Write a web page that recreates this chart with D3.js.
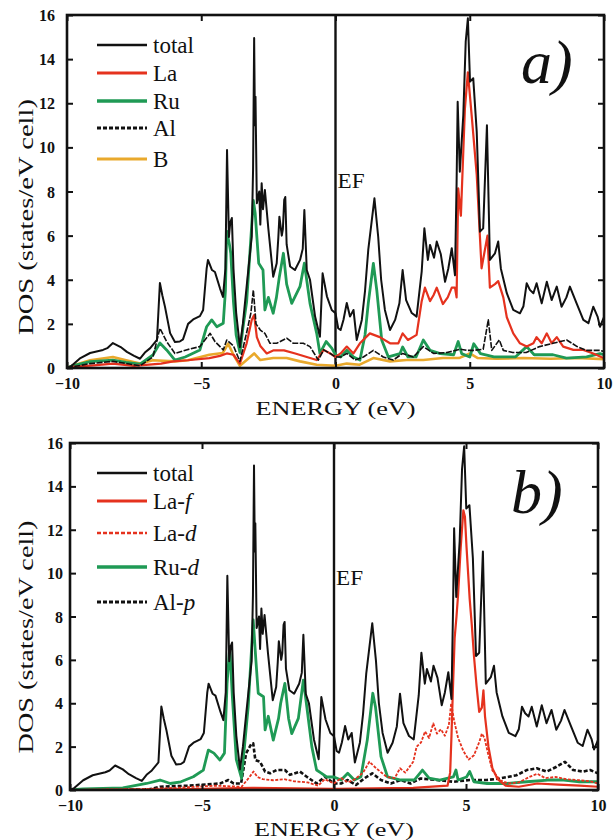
<!DOCTYPE html>
<html>
<head>
<meta charset="utf-8">
<script src="https://cdn.jsdelivr.net/npm/d3@7"></script>
<style>
  html, body { margin: 0; padding: 0; background: #fff; }
  svg { display: block; }
  text { font-family: "Liberation Serif", "Times New Roman", serif; fill: #111; }
</style>
</head>
<body>
<svg id="chart" width="613" height="840"></svg>
<script>
// Energy axis (eV) and DOS axis (states/eV cell) ticks
const energyTicks = [-10, -5, 0, 5, 10];
const dosTicks = [0, 2, 4, 6, 8, 10, 12, 14, 16];

// Total DOS, [energy, DOS] — same in both panels
const totalDOS = [[-10,0],[-9.83,0.1],[-9.5,0.45],[-9.14,0.68],[-8.66,0.82],[-8.5,0.9],[-8.29,1.13],[-8.0,0.95],[-7.77,0.73],[-7.5,0.55],[-7.28,0.42],[-7.1,0.7],[-6.9,0.9],[-6.65,1.27],[-6.54,3.85],[-6.45,3.3],[-6.35,2.77],[-6.16,1.58],[-5.98,1.18],[-5.8,1.2],[-5.68,1.3],[-5.49,2.0],[-5.3,2.2],[-5.05,2.35],[-4.93,2.63],[-4.8,4.5],[-4.75,4.9],[-4.6,4.44],[-4.49,4.35],[-4.3,3.6],[-4.19,3.22],[-4.1,4.5],[-4.04,9.88],[-3.97,5.94],[-3.92,6.6],[-3.86,6.8],[-3.8,4.5],[-3.7,2.5],[-3.56,0.95],[-3.45,2.0],[-3.31,3.69],[-3.2,5.0],[-3.12,5.95],[-3.07,9.0],[-3.03,14.96],[-3.0,11.0],[-2.98,12.3],[-2.93,7.47],[-2.84,8.0],[-2.8,6.5],[-2.75,8.37],[-2.7,7.2],[-2.63,8.07],[-2.5,6.3],[-2.32,4.14],[-2.19,4.75],[-2.13,5.9],[-2.09,6.86],[-2.0,6.0],[-1.96,6.3],[-1.91,7.62],[-1.87,7.75],[-1.82,5.6],[-1.69,4.6],[-1.51,4.44],[-1.32,4.9],[-1.22,5.4],[-1.16,7.16],[-1.07,4.44],[-0.95,4.0],[-0.76,2.33],[-0.58,1.42],[-0.48,4.29],[-0.32,3.25],[-0.14,2.63],[0.0,2.48],[0.1,1.8],[0.19,1.72],[0.3,2.2],[0.42,2.95],[0.54,2.33],[0.67,2.63],[0.79,1.27],[0.98,2.18],[1.1,3.5],[1.22,5.35],[1.45,7.69],[1.59,5.95],[1.7,4.0],[1.84,2.63],[2.03,1.72],[2.22,2.18],[2.38,2.93],[2.5,4.44],[2.63,3.08],[2.84,2.49],[3.02,2.33],[3.21,4.37],[3.31,6.33],[3.44,4.9],[3.52,5.58],[3.67,5.0],[3.77,5.73],[3.92,5.17],[4.08,3.91],[4.2,4.5],[4.33,5.43],[4.45,4.2],[4.51,8.4],[4.55,12.07],[4.63,8.9],[4.76,11.47],[4.85,14.8],[4.93,15.85],[5.01,12.98],[5.13,13.13],[5.26,10.7],[5.38,6.18],[5.5,6.33],[5.64,11.0],[5.75,4.9],[5.94,5.2],[6.06,5.73],[6.16,4.5],[6.38,3.39],[6.62,2.63],[6.87,2.48],[7.0,2.8],[7.12,3.84],[7.24,3.54],[7.37,3.39],[7.49,3.84],[7.68,2.93],[7.87,3.91],[8.05,3.08],[8.24,3.69],[8.42,2.78],[8.6,3.2],[8.73,3.69],[8.98,2.93],[9.23,2.18],[9.42,2.03],[9.6,2.78],[9.76,2.33],[9.85,1.87],[10,2.3]];

// Panel a) partial DOS
const laDOS = [[-10,0],[-9.8,0.05],[-9,0.12],[-8.3,0.2],[-7.5,0.1],[-6.5,0.2],[-6.04,0.3],[-5.5,0.35],[-4.7,0.45],[-4.3,0.55],[-4.05,0.66],[-3.8,0.6],[-3.56,0.2],[-3.31,1.12],[-3.12,2.18],[-3.03,2.4],[-2.93,1.4],[-2.8,1.0],[-2.56,0.66],[-2.3,0.8],[-1.92,0.8],[-1.5,0.66],[-1.07,0.5],[-0.7,0.36],[-0.44,0.82],[-0.2,0.66],[0,0.5],[0.19,0.66],[0.42,0.97],[0.67,0.66],[0.91,1.12],[1.28,1.57],[1.65,1.4],[2.03,1.12],[2.34,1.12],[2.5,1.57],[2.7,1.27],[3.02,1.5],[3.21,3.03],[3.33,3.64],[3.52,3.03],[3.65,3.3],[3.77,3.64],[4.0,2.9],[4.18,3.2],[4.33,3.64],[4.45,3.64],[4.51,3.2],[4.57,8.14],[4.67,6.9],[4.82,11.77],[4.93,13.4],[5.07,11.47],[5.26,8.75],[5.44,4.52],[5.66,6.0],[5.75,3.64],[5.94,3.8],[6.06,3.94],[6.25,3.2],[6.38,2.3],[6.62,1.57],[6.87,1.12],[7.12,0.97],[7.37,1.12],[7.49,1.4],[7.68,1.12],[7.87,1.57],[8.05,1.12],[8.24,1.4],[8.48,0.97],[8.86,0.82],[9.23,0.82],[9.6,0.66],[9.9,0.5],[10,0.45]];

const ruDOS = [[-10,0],[-9.8,0.1],[-9.14,0.29],[-8.29,0.36],[-7.8,0.25],[-7.28,0.18],[-6.8,0.59],[-6.54,1.13],[-6.29,0.82],[-5.98,0.36],[-5.6,0.5],[-5.05,0.82],[-4.8,1.87],[-4.61,2.18],[-4.42,1.87],[-4.18,2.03],[-4.1,3.5],[-4.05,6.2],[-3.95,5.6],[-3.9,5.2],[-3.8,3.0],[-3.7,1.5],[-3.56,0.7],[-3.45,1.8],[-3.31,3.0],[-3.2,5.0],[-3.06,7.6],[-2.99,7.0],[-2.86,4.75],[-2.7,4.44],[-2.63,2.63],[-2.5,3.2],[-2.32,2.48],[-2.2,3.2],[-2.09,4.14],[-1.94,5.2],[-1.82,3.8],[-1.63,2.93],[-1.32,3.7],[-1.16,4.75],[-0.95,2.93],[-0.7,1.57],[-0.58,0.66],[-0.35,1.2],[-0.14,0.9],[0,0.6],[0.19,0.5],[0.42,0.8],[0.67,0.5],[0.91,0.36],[1.1,1.5],[1.22,2.93],[1.41,4.74],[1.54,3.5],[1.72,1.27],[1.97,0.5],[2.4,0.65],[2.5,0.95],[2.7,0.5],[3.0,0.5],[3.27,1.27],[3.52,0.8],[3.9,0.65],[4.4,0.6],[4.57,1.2],[4.7,0.65],[5.0,0.5],[5.15,1.1],[5.4,0.65],[5.9,0.5],[6.7,0.5],[7.12,0.97],[7.4,0.6],[8.1,0.6],[8.6,0.45],[9.35,0.5],[9.85,0.65],[10,0.6]];

const alDOS = [[-10,0],[-9.8,0.05],[-9.14,0.2],[-8.29,0.3],[-7.28,0.1],[-6.8,0.5],[-6.54,1.8],[-6.29,1.2],[-5.98,0.66],[-5.56,0.82],[-5.05,0.97],[-4.67,1.57],[-4.49,1.2],[-4.18,0.82],[-4.05,1.27],[-3.8,1.0],[-3.56,0.3],[-3.31,1.6],[-3.15,2.5],[-3.06,3.54],[-2.96,2.0],[-2.8,1.72],[-2.63,1.57],[-2.44,1.12],[-2.19,1.12],[-1.95,1.27],[-1.82,1.35],[-1.57,1.12],[-1.2,1.12],[-0.95,0.97],[-0.64,0.36],[-0.44,0.82],[-0.2,0.66],[0,0.5],[0.19,0.5],[0.42,0.66],[0.73,0.36],[1.04,0.5],[1.41,0.8],[1.78,0.5],[2.15,0.36],[2.5,0.66],[2.9,0.5],[3.27,0.97],[3.65,0.66],[4.15,0.7],[4.65,0.85],[4.9,0.8],[5.15,0.8],[5.5,0.85],[5.69,2.18],[5.82,0.8],[6.1,1.27],[6.25,0.8],[6.6,0.7],[7.1,0.7],[7.6,0.97],[8.1,1.12],[8.61,1.27],[9.0,0.97],[9.35,0.8],[9.85,0.8],[10,0.75]];

const bDOS = [[-10,0],[-9.8,0.1],[-9.14,0.35],[-8.29,0.5],[-7.8,0.35],[-7.28,0.2],[-6.8,0.35],[-6.0,0.3],[-5.5,0.35],[-4.7,0.6],[-4.2,0.68],[-4.0,1.1],[-3.8,0.6],[-3.56,0.1],[-3.31,0.36],[-3.03,0.66],[-2.8,0.36],[-2.32,0.45],[-1.82,0.45],[-1.32,0.3],[-0.7,0.15],[0,0.1],[0.42,0.2],[0.9,0.15],[1.41,0.45],[2.03,0.3],[2.65,0.36],[3.27,0.36],[4.0,0.45],[4.6,0.45],[5.0,0.66],[5.3,0.45],[6.0,0.42],[7.0,0.45],[8.0,0.42],[9.0,0.45],[10,0.4]];

// Panel b) orbital-resolved DOS
const laF = [[-10,0],[-7,0.02],[-5,0.05],[-3.1,0.1],[0,0.05],[3,0.1],[4.3,0.2],[4.4,0.8],[4.45,2.5],[4.5,4.5],[4.57,7.0],[4.64,8.0],[4.7,9.0],[4.8,11.2],[4.9,12.9],[4.96,12.6],[5.02,11.2],[5.08,10.0],[5.14,8.8],[5.22,7.6],[5.3,6.2],[5.4,4.8],[5.5,3.6],[5.6,3.8],[5.66,4.6],[5.72,3.4],[5.85,2.0],[6.0,1.0],[6.2,0.5],[6.5,0.2],[7.0,0.15],[7.7,0.3],[8.5,0.25],[9.3,0.2],[10,0.15]];

const laD = [[-10,0],[-7,0.05],[-6,0.1],[-4.5,0.2],[-3.5,0.15],[-3.2,0.6],[-3.05,0.85],[-2.9,0.6],[-2.7,0.5],[-2.3,0.45],[-1.9,0.5],[-1.5,0.4],[-1.0,0.35],[-0.6,0.2],[-0.35,0.5],[0,0.3],[0.27,0.55],[0.52,0.35],[0.8,0.5],[1.1,0.8],[1.34,1.3],[1.6,1.0],[2.0,0.6],[2.3,0.55],[2.5,1.0],[2.7,0.8],[3.0,1.3],[3.13,2.0],[3.3,2.2],[3.45,2.7],[3.6,2.4],[3.76,3.07],[3.9,2.6],[4.05,2.8],[4.2,2.5],[4.35,3.0],[4.44,4.0],[4.55,3.2],[4.7,2.4],[4.9,1.8],[5.1,1.4],[5.3,1.6],[5.5,2.2],[5.6,2.6],[5.7,2.4],[5.85,1.6],[6.0,0.9],[6.3,0.45],[6.6,0.3],[7.0,0.35],[7.4,0.6],[7.7,0.75],[8.0,0.55],[8.4,0.6],[8.8,0.5],[9.3,0.45],[9.7,0.4],[10,0.3]];

const ruD = [[-10,0],[-9.5,0.05],[-8,0.1],[-7.1,0.3],[-6.59,0.46],[-6.2,0.3],[-5.8,0.38],[-5.33,0.61],[-4.95,0.92],[-4.76,1.84],[-4.55,1.7],[-4.32,1.38],[-4.15,1.7],[-4.05,4.92],[-3.95,6.6],[-3.85,4.3],[-3.7,1.4],[-3.5,0.54],[-3.44,1.38],[-3.25,3.84],[-3.06,7.84],[-2.96,6.0],[-2.87,4.46],[-2.67,4.3],[-2.61,2.77],[-2.49,3.4],[-2.3,2.3],[-2.1,3.3],[-2.02,4.0],[-1.86,4.92],[-1.72,3.3],[-1.6,2.6],[-1.35,3.3],[-1.16,5.07],[-1.03,3.84],[-0.84,2.0],[-0.66,0.92],[-0.47,0.77],[-0.28,0.6],[0,0.6],[0.27,0.46],[0.52,0.77],[0.77,0.46],[1.02,0.61],[1.26,2.3],[1.47,4.46],[1.57,3.84],[1.78,1.54],[2.03,0.6],[2.53,0.46],[3.04,0.46],[3.35,0.92],[3.6,0.55],[4.0,0.46],[4.52,0.6],[4.62,0.92],[4.7,0.46],[5.02,0.6],[5.14,0.85],[5.3,0.38],[5.8,0.3],[6.55,0.3],[7.3,0.38],[8.1,0.46],[8.7,0.46],[9.3,0.38],[10,0.38]];

const alP = [[-10,0],[-7,0.03],[-6.6,0.15],[-5.5,0.2],[-4.32,0.3],[-4.0,0.46],[-3.8,0.3],[-3.52,0.3],[-3.33,1.69],[-3.12,2.15],[-3.06,2.15],[-2.98,1.38],[-2.8,1.3],[-2.61,0.85],[-2.42,0.77],[-2.17,0.92],[-1.86,0.92],[-1.67,0.7],[-1.29,0.85],[-1.03,0.61],[-0.66,0.3],[-0.34,0.61],[0,0.3],[0.27,0.3],[0.52,0.46],[0.83,0.23],[1.14,0.53],[1.45,0.77],[1.78,0.46],[2.15,0.3],[2.53,0.46],[2.9,0.3],[3.28,0.53],[3.9,0.46],[4.52,0.38],[5.14,0.46],[5.78,0.46],[6.28,0.53],[6.91,0.68],[7.3,0.92],[7.68,1.0],[8.05,0.85],[8.43,1.07],[8.75,1.3],[9.06,0.92],[9.44,0.85],[9.7,0.92],[10,0.77]];

const COLORS = { total: "#111111", la: "#e5321e", ru: "#1f9a55", al: "#111111", b: "#e9a92c" };

const svg = d3.select("#chart");

function drawPanel(cfg) {
  const g = svg.append("g");
  const x = d3.scaleLinear().domain([-10, 10]).range([cfg.left, cfg.right]);
  const y = d3.scaleLinear().domain([0, 16]).range([cfg.bottom, cfg.top]);

  const clipId = "clip-" + cfg.id;
  svg.append("clipPath").attr("id", clipId)
    .append("rect")
    .attr("x", cfg.left).attr("y", cfg.top - 2)
    .attr("width", cfg.right - cfg.left).attr("height", cfg.bottom - cfg.top + 2);

  // Fermi level
  g.append("line")
    .attr("x1", x(0)).attr("x2", x(0))
    .attr("y1", cfg.top).attr("y2", cfg.bottom)
    .attr("stroke", "#111").attr("stroke-width", 2.4);

  const line = d3.line().x(d => x(d[0])).y(d => y(d[1])).curve(d3.curveLinear);
  const plot = g.append("g").attr("clip-path", `url(#${clipId})`);
  cfg.series.forEach(s => {
    plot.append("path")
      .datum(s.data)
      .attr("d", line)
      .attr("fill", "none")
      .attr("stroke", s.color)
      .attr("stroke-width", s.width)
      .attr("stroke-dasharray", s.dash || null)
      .attr("stroke-linejoin", "round");
  });

  // Axes with inward ticks
  const tickLen = 6;
  const axB = g.append("g").attr("transform", `translate(0,${cfg.bottom})`)
    .call(d3.axisBottom(x).tickValues(energyTicks).tickSize(-tickLen).tickPadding(cfg.xPad)
      .tickFormat(d3.format("d")));
  const axT = g.append("g").attr("transform", `translate(0,${cfg.top})`)
    .call(d3.axisTop(x).tickValues(energyTicks).tickSize(-tickLen).tickFormat(""));
  const axL = g.append("g").attr("transform", `translate(${cfg.left},0)`)
    .call(d3.axisLeft(y).tickValues(dosTicks).tickSize(-tickLen).tickPadding(cfg.yPad)
      .tickFormat(d3.format("d")));
  const axR = g.append("g").attr("transform", `translate(${cfg.right},0)`)
    .call(d3.axisRight(y).tickValues(dosTicks).tickSize(-tickLen).tickFormat(""));
  [axB, axT, axL, axR].forEach(a => {
    a.select(".domain").remove();
    a.selectAll(".tick line").attr("stroke", "#111").attr("stroke-width", 2);
    a.selectAll(".tick text")
      .attr("font-size", 16).attr("font-weight", "bold").attr("fill", "#222");
  });
  axB.selectAll(".tick text").attr("dy", "0.71em");
  axL.selectAll(".tick text").attr("dy", "0.35em");

  // Frame
  g.append("rect")
    .attr("x", cfg.left).attr("y", cfg.top)
    .attr("width", cfg.right - cfg.left).attr("height", cfg.bottom - cfg.top)
    .attr("fill", "none").attr("stroke", "#111").attr("stroke-width", 2.6);

  // Axis titles
  g.append("text")
    .attr("x", x(0)).attr("y", cfg.xTitleY)
    .attr("text-anchor", "middle").attr("font-size", 19)
    .attr("textLength", 160).attr("lengthAdjust", "spacingAndGlyphs")
    .text("ENERGY (eV)");
  g.append("text")
    .attr("transform", `translate(${cfg.yTitleX},${cfg.yTitleY}) rotate(-90)`)
    .attr("text-anchor", "middle").attr("font-size", 20)
    .attr("textLength", cfg.yTitleLen).attr("lengthAdjust", "spacingAndGlyphs")
    .text("DOS (states/eV cell)");

  // EF label
  g.append("text")
    .attr("x", x(0) + 2).attr("y", cfg.efY)
    .attr("font-size", 20)
    .attr("textLength", 27).attr("lengthAdjust", "spacingAndGlyphs")
    .text("EF");

  // Panel letter
  g.append("text")
    .attr("x", cfg.letterX).attr("y", cfg.letterY)
    .attr("font-size", 62).attr("font-style", "italic")
    .text(cfg.letter);

  // Legend
  const leg = g.append("g");
  cfg.legend.forEach(item => {
    leg.append("line")
      .attr("x1", 97).attr("x2", 147)
      .attr("y1", item.y).attr("y2", item.y)
      .attr("stroke", item.color).attr("stroke-width", item.width)
      .attr("stroke-dasharray", item.dash || null);
    const t = leg.append("text")
      .attr("x", 153).attr("y", item.y + 8)
      .attr("font-size", 23);
    t.append("tspan").text(item.label);
    if (item.orbital) {
      t.append("tspan").text("-");
      t.append("tspan").attr("font-style", "italic").text(item.orbital);
    }
  });
}

drawPanel({
  id: "a", letter: "a)",
  left: 67, right: 604, top: 15, bottom: 368,
  xPad: 10, yPad: 12,
  xTitleY: 415, yTitleX: 33, yTitleY: 217, yTitleLen: 236,
  efY: 188, letterX: 521, letterY: 83,
  series: [
    { data: bDOS, color: COLORS.b, width: 2.6 },
    { data: ruDOS, color: COLORS.ru, width: 2.8 },
    { data: laDOS, color: COLORS.la, width: 2.2 },
    { data: alDOS, color: COLORS.al, width: 1.6, dash: "6,1.5" },
    { data: totalDOS, color: COLORS.total, width: 2 }
  ],
  legend: [
    { label: "total", color: COLORS.total, width: 2.6, y: 45 },
    { label: "La", color: COLORS.la, width: 3, y: 73 },
    { label: "Ru", color: COLORS.ru, width: 3.6, y: 101 },
    { label: "Al", color: COLORS.al, width: 3, y: 128, dash: "4,2" },
    { label: "B", color: COLORS.b, width: 3.2, y: 159 }
  ]
});

drawPanel({
  id: "b", letter: "b)",
  left: 70, right: 598, top: 443, bottom: 790,
  xPad: 10, yPad: 7,
  xTitleY: 836, yTitleX: 33, yTitleY: 637, yTitleLen: 233,
  efY: 585, letterX: 511, letterY: 513,
  series: [
    { data: alP, color: COLORS.al, width: 2.6, dash: "4,2" },
    { data: ruD, color: COLORS.ru, width: 2.8 },
    { data: laD, color: COLORS.la, width: 1.8, dash: "3,1.5" },
    { data: laF, color: COLORS.la, width: 2.2 },
    { data: totalDOS, color: COLORS.total, width: 2 }
  ],
  legend: [
    { label: "total", color: COLORS.total, width: 2.6, y: 473 },
    { label: "La", orbital: "f", color: COLORS.la, width: 3, y: 501 },
    { label: "La", orbital: "d", color: COLORS.la, width: 2.4, y: 533, dash: "4,2" },
    { label: "Ru", orbital: "d", color: COLORS.ru, width: 3.6, y: 567 },
    { label: "Al", orbital: "p", color: COLORS.al, width: 3, y: 602, dash: "4,2" }
  ]
});
</script>
</body>
</html>
